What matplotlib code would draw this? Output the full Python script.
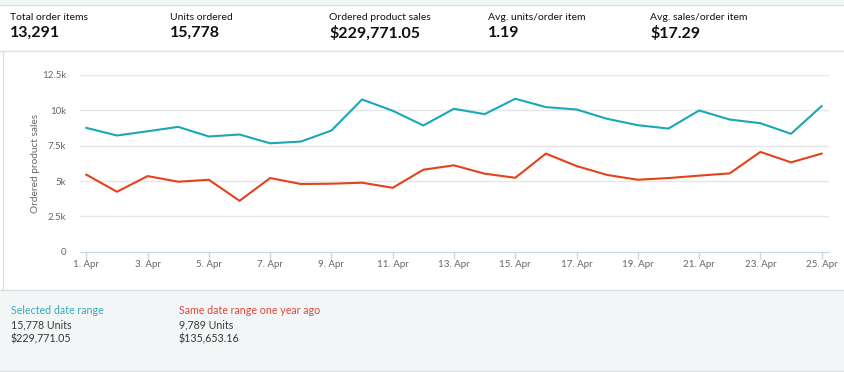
import numpy as np
import matplotlib
matplotlib.use("Agg")
import matplotlib.pyplot as plt
from matplotlib.patches import Rectangle
from matplotlib.lines import Line2D

# --- data (ordered product sales per day, April) ---
days = list(range(1, 26))
sales_this_year = [8760, 8220, 8520, 8830, 8150, 8290, 7670, 7790, 8570, 10770,
                   9970, 8930, 10110, 9730, 10820, 10230, 10060, 9400, 8950, 8710,
                   9990, 9350, 9090, 8340, 10300]
sales_last_year = [5450, 4240, 5350, 4950, 5090, 3600, 5210, 4790, 4810, 4880,
                   4520, 5800, 6110, 5520, 5230, 6940, 6060, 5430, 5090, 5210,
                   5380, 5540, 7060, 6320, 6940]

kpi_labels = ["Total order items", "Units ordered", "Ordered product sales",
              "Avg. units/order item", "Avg. sales/order item"]
kpi_values = ["13,291", "15,778", "$229,771.05", "1.19", "$17.29"]

y_ticks = [0, 2500, 5000, 7500, 10000, 12500]
y_ticklabels = ["0", "2.5k", "5k", "7.5k", "10k", "12.5k"]
x_ticks = list(range(1, 26, 2))
x_ticklabels = [f"{d}. Apr" for d in x_ticks]

TEAL = "#1aa7b7"
RED = "#e3421c"

plt.rcParams['font.family'] = ['Lato', 'DejaVu Sans']

W, H = 845, 372
fig = plt.figure(figsize=(W / 100, H / 100), dpi=100)


def fx(px):
    return px / W


def fy(py):
    return 1 - py / H


# --- background panels ---
fig.patches.append(Rectangle((0, fy(5)), 1, 5 / H, transform=fig.transFigure,
                             color="#f3f6f7", zorder=0))
fig.add_artist(Line2D([0, 1], [fy(5), fy(5)], color="#dcdfe0", lw=1))
fig.add_artist(Line2D([0, 1], [fy(51), fy(51)], color="#dcdfe0", lw=1))
fig.add_artist(Line2D([fx(3), fx(3)], [fy(51), fy(290)], color="#dcdfe0", lw=1))
fig.patches.append(Rectangle((0, fy(371)), 1, (371 - 290) / H, transform=fig.transFigure,
                             color="#f3f6f7", zorder=0))
fig.add_artist(Line2D([0, 1], [fy(290), fy(290)], color="#dcdfe0", lw=1))
fig.add_artist(Line2D([0, 1], [fy(371), fy(371)], color="#dcdfe0", lw=1))

# --- KPI header ---
kpi_x = [10, 170, 329, 488, 650]
for x, lab, val in zip(kpi_x, kpi_labels, kpi_values):
    fig.text(fx(x), fy(17), lab, fontsize=7.5, color="#111111", va="center", ha="left")
    fig.text(fx(x), fy(33), val, fontsize=11.5, fontweight="bold", color="#111111",
             va="center", ha="left")

# --- chart ---
ax = fig.add_axes([fx(80), fy(251.7), fx(829 - 80), (251.7 - 75) / H])
ax.plot(days, sales_this_year, color=TEAL, lw=1.5, clip_on=False, zorder=3)
ax.plot(days, sales_last_year, color=RED, lw=1.5, clip_on=False, zorder=3)

ax.set_xlim(0.794, 25.24)
ax.set_ylim(0, 12500)
ax.set_yticks(y_ticks)
ax.set_yticklabels(y_ticklabels)
ax.set_xticks(x_ticks)
ax.set_xticklabels(x_ticklabels)
ax.tick_params(axis="y", length=0, labelsize=7, labelcolor="#666666", pad=10)
ax.tick_params(axis="x", length=5, width=1, color="#ccd6eb", direction="out",
               labelsize=7, labelcolor="#666666", pad=1)
ax.grid(axis="y", color="#e6e6e6", lw=1)
ax.set_axisbelow(True)
for s in ["top", "right", "left"]:
    ax.spines[s].set_visible(False)
ax.spines["bottom"].set_color("#ccd6eb")
ax.set_ylabel("Ordered product sales", fontsize=7.3, color="#666666", labelpad=1)

# --- legend / totals panel ---
fig.text(fx(11), fy(311), "Selected date range", fontsize=7.7, color="#3aa9b9", va="center")
fig.text(fx(11), fy(325), "15,778 Units", fontsize=7.7, color="#3a3a3a", va="center")
fig.text(fx(11), fy(339), "$229,771.05", fontsize=7.7, color="#333333", va="center")
fig.text(fx(179), fy(311), "Same date range one year ago", fontsize=7.7, color="#e2453b",
         va="center")
fig.text(fx(179), fy(325), "9,789 Units", fontsize=7.7, color="#3a3a3a", va="center")
fig.text(fx(179), fy(339), "$135,653.16", fontsize=7.7, color="#333333", va="center")

fig.savefig("out.png", dpi=100)
